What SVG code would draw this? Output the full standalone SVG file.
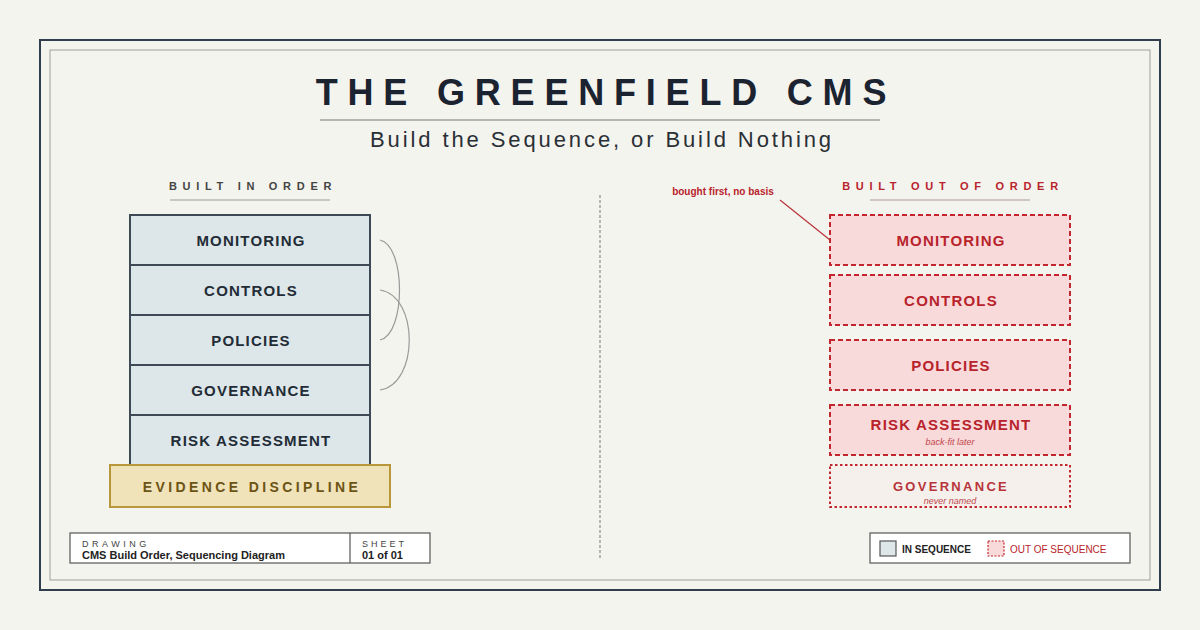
<svg xmlns="http://www.w3.org/2000/svg" width="1200" height="630" viewBox="0 0 1200 630">
<defs>
<style>
text{font-family:"Liberation Sans",Arial,sans-serif;}
.lbl{font-size:15px;font-weight:bold;letter-spacing:1.2px;text-anchor:middle;fill:#222c36;}
.rlbl{font-size:15px;font-weight:bold;letter-spacing:1.2px;text-anchor:middle;fill:#b8232b;}
.stack{fill:#dde6e8;stroke:#3d4a55;stroke-width:2;}
.oo{fill:#f8dadb;stroke:#c3262e;stroke-width:2;stroke-dasharray:5 3;}
.note{font-size:9px;font-style:italic;text-anchor:middle;fill:#c0464c;}
.sect{font-size:11px;font-weight:bold;letter-spacing:5.7px;text-anchor:middle;}
.arc{fill:none;stroke:#9a9a9a;stroke-width:1.2;}
</style>
</defs>
<rect x="0" y="0" width="1200" height="630" fill="#f4f4ee"/>
<rect x="40" y="40" width="1120" height="550" fill="none" stroke="#2f3d4c" stroke-width="2"/>
<rect x="50" y="50" width="1100" height="530" fill="none" stroke="#a0a09a" stroke-width="1"/>

<g id="title">
<text x="606" y="105" text-anchor="middle" font-size="36" font-weight="bold" letter-spacing="9.8" fill="#1b2330">THE GREENFIELD CMS</text>
<line x1="320" y1="120" x2="880" y2="120" stroke="#777" stroke-width="1.2"/>
<text x="602" y="147" text-anchor="middle" font-size="22" letter-spacing="2.9" fill="#2a2f36">Build the Sequence, or Build Nothing</text>
</g>

<g id="left-heading">
<text class="sect" x="253" y="190" fill="#444">BUILT IN ORDER</text>
<line x1="170" y1="200" x2="330" y2="200" stroke="#999" stroke-width="1.2"/>
</g>

<g id="left-monitoring"><rect class="stack" x="130" y="215" width="240" height="50"/><text class="lbl" x="251" y="246">MONITORING</text></g>
<g id="left-controls"><rect class="stack" x="130" y="265" width="240" height="50"/><text class="lbl" x="251" y="296">CONTROLS</text></g>
<g id="left-policies"><rect class="stack" x="130" y="315" width="240" height="50"/><text class="lbl" x="251" y="346">POLICIES</text></g>
<g id="left-governance"><rect class="stack" x="130" y="365" width="240" height="50"/><text class="lbl" x="251" y="396">GOVERNANCE</text></g>
<g id="left-risk"><rect class="stack" x="130" y="415" width="240" height="50"/><text class="lbl" x="251" y="446">RISK ASSESSMENT</text></g>
<g id="left-evidence"><rect x="110" y="465" width="280" height="42" fill="#f0e2b9" stroke="#b8963a" stroke-width="2"/><text x="252" y="492" text-anchor="middle" font-size="14" font-weight="bold" letter-spacing="3.4" fill="#6b5414">EVIDENCE DISCIPLINE</text></g>

<g id="connectors">
<path class="arc" d="M380,240 C406,246 406,334 380,340"/>
<path class="arc" d="M380,290 C419,296 419,384 380,390"/>
<line x1="600" y1="195" x2="600" y2="560" stroke="#8a8a8a" stroke-width="1.2" stroke-dasharray="3 2"/>
<line x1="780" y1="200" x2="830" y2="240" stroke="#b8343a" stroke-width="1.2"/>
</g>

<g id="right-heading">
<text class="sect" x="953" y="190" fill="#b8232b" letter-spacing="6.9">BUILT OUT OF ORDER</text>
<line x1="870" y1="200" x2="1030" y2="200" stroke="#a89a9a" stroke-width="1.2"/>
</g>

<g id="annotation"><text x="723" y="195" text-anchor="middle" font-size="10" font-weight="bold" fill="#b8232b">bought first, no basis</text></g>

<g id="right-monitoring"><rect class="oo" x="830" y="215" width="240" height="50"/><text class="rlbl" x="951" y="246">MONITORING</text></g>
<g id="right-controls"><rect class="oo" x="830" y="275" width="240" height="50"/><text class="rlbl" x="951" y="306">CONTROLS</text></g>
<g id="right-policies"><rect class="oo" x="830" y="340" width="240" height="50"/><text class="rlbl" x="951" y="371">POLICIES</text></g>
<g id="right-risk"><rect class="oo" x="830" y="405" width="240" height="50"/><text class="rlbl" x="951" y="430">RISK ASSESSMENT</text><text class="note" x="950" y="445">back-fit later</text></g>
<g id="right-governance"><rect x="830" y="465" width="240" height="42" fill="#f5f0ec" stroke="#c3262e" stroke-width="2" stroke-dasharray="2.5 2.5"/><text x="951" y="491" text-anchor="middle" font-size="13" font-weight="bold" letter-spacing="2.3" fill="#b8343a">GOVERNANCE</text><text class="note" x="950" y="504">never named</text></g>

<g id="title-block">
<rect x="70" y="533" width="360" height="30" fill="#ffffff" stroke="#555" stroke-width="1.2"/>
<line x1="350" y1="533" x2="350" y2="563" stroke="#555" stroke-width="1.2"/>
<text x="82" y="547" font-size="9" letter-spacing="3.5" fill="#444">DRAWING</text>
<text x="82" y="559" font-size="11" font-weight="bold" fill="#222">CMS Build Order, Sequencing Diagram</text>
<text x="362" y="547" font-size="9" letter-spacing="3" fill="#444">SHEET</text>
<text x="362" y="559" font-size="11" font-weight="bold" fill="#222">01 of 01</text>
</g>

<g id="legend">
<rect x="870" y="533" width="260" height="30" fill="#ffffff" stroke="#555" stroke-width="1.2"/>
<rect x="880" y="541" width="16" height="15" fill="#dde6e8" stroke="#555" stroke-width="1.2"/>
<text x="902" y="553" font-size="10" font-weight="bold" fill="#222">IN SEQUENCE</text>
<rect x="988" y="541" width="16" height="15" fill="#f8dadb" stroke="#c3262e" stroke-width="1.2" stroke-dasharray="2 1.5"/>
<text x="1010" y="553" font-size="10" fill="#b8232b">OUT OF SEQUENCE</text>
</g>
</svg>
